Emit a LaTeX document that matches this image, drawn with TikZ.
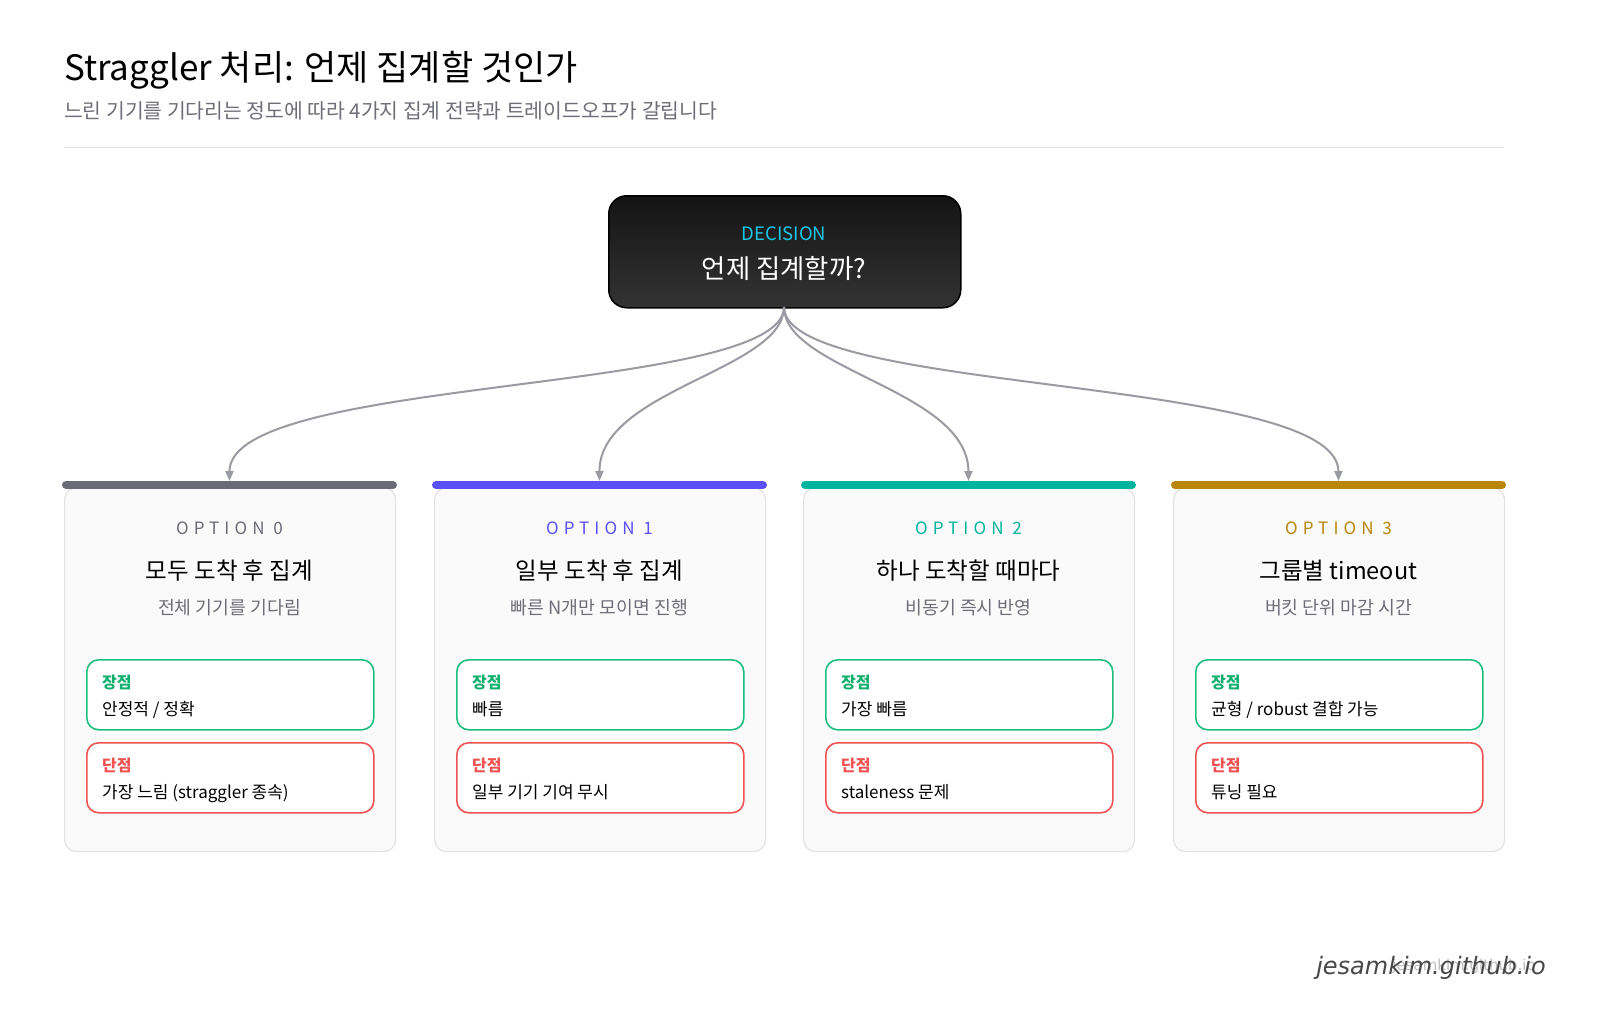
\documentclass[tikz,border=0pt]{standalone}
\usepackage{fontspec}
\setmainfont{Noto Sans CJK KR}
\newfontfamily\wm{DejaVu Sans}
\usetikzlibrary{arrows.meta}
\definecolor{optg}{HTML}{6B6B78}
\definecolor{optb}{HTML}{5B50F5}
\definecolor{optt}{HTML}{00B4A0}
\definecolor{opty}{HTML}{B8860B}
\definecolor{progreen}{HTML}{1DBF7F}
\definecolor{prolabel}{HTML}{12B06E}
\definecolor{conred}{HTML}{F05252}
\definecolor{cardfill}{HTML}{FAFAFA}
\definecolor{cardline}{HTML}{E2E2E6}
\definecolor{arr}{HTML}{9A9AA2}
\definecolor{subgray}{HTML}{6E6E78}
\definecolor{cyanlab}{HTML}{19C6E8}
\tikzset{
 card/.style={draw=cardline, fill=cardfill, rounded corners=12pt, line width=1.2pt, minimum width=331pt, minimum height=364pt, anchor=north west, inner sep=0pt},
 bar/.style={line width=8pt, line cap=round},
 probox/.style={draw=progreen, fill=white, rounded corners=12pt, line width=1.6pt, minimum width=287pt, minimum height=70pt, anchor=north west, inner sep=0pt},
 conbox/.style={draw=conred, fill=white, rounded corners=12pt, line width=1.6pt, minimum width=287pt, minimum height=70pt, anchor=north west, inner sep=0pt},
 conn/.style={draw=arr, line width=2pt, -{Triangle[length=10pt,width=8pt]}},
 lab/.style={anchor=base west, inner sep=0pt},
 ctr/.style={anchor=base, inner sep=0pt},
}
\newcommand{\optcard}[7]{% x, color, num, title, sub, pro, con
 \node[card] (card#3) at (#1,487) {};
 \draw[bar,#2] (#1+2,485) -- (#1+329,485);
 \coordinate (top#3) at (#1+165.5,481);
 \node[ctr,text=#2] (ol#3) at (#1+165.5,534) {\fontsize{17}{20}\selectfont\addfontfeatures{LetterSpace=30}OPTION #3};
 \node[ctr] (ot#3) at (#1+165.5,579) {\fontsize{23.5}{28}\selectfont #4};
 \node[ctr,text=subgray] (os#3) at (#1+165.5,614) {\fontsize{18.3}{22}\selectfont #5};
 \node[probox] (pro#3) at (#1+22,659) {};
 \node[lab,text=prolabel] at (#1+38,688) {\fontsize{16}{19}\selectfont\bfseries 장점};
 \node[lab] (protx#3) at (#1+38,715) {\fontsize{17}{20}\selectfont #6};
 \node[conbox] (con#3) at (#1+22,742) {};
 \node[lab,text=conred] at (#1+38,771) {\fontsize{16}{19}\selectfont\bfseries 단점};
 \node[lab] (contx#3) at (#1+38,798) {\fontsize{17}{20}\selectfont #7};
}
\begin{document}
\begin{tikzpicture}[x=1pt,y=-1pt]
\useasboundingbox[fill=white] (0,0) rectangle (1600,1012);
\node[lab] (title) at (64,80) {\fontsize{35}{40}\selectfont Straggler 처리: 언제 집계할 것인가};
\node[lab,text=subgray] (subtitle) at (64,118) {\fontsize{20.4}{24}\selectfont 느린 기기를 기다리는 정도에 따라 4가지 집계 전략과 트레이드오프가 갈립니다};
\draw[cardline, line width=1pt] (64,147) -- (1504,147);
\node[draw=black, line width=1.5pt, rounded corners=18pt, top color=black!92, bottom color=black!80, minimum width=352pt, minimum height=112pt, anchor=north west, inner sep=0pt] (dec) at (608,195) {};
\node[ctr,text=cyanlab] (declab) at (784,240) {\fontsize{18.5}{22}\selectfont DECISION};
\node[ctr,text=white] (dectxt) at (784,278) {\fontsize{26.4}{30}\selectfont 언제 집계할까?};
\optcard{64}{optg}{0}{모두 도착 후 집계}{전체 기기를 기다림}{안정적 / 정확}{가장 느림 (straggler 종속)}
\optcard{434}{optb}{1}{일부 도착 후 집계}{빠른 N개만 모이면 진행}{빠름}{일부 기기 기여 무시}
\optcard{803}{optt}{2}{하나 도착할 때마다}{비동기 즉시 반영}{가장 빠름}{staleness 문제}
\optcard{1173}{opty}{3}{그룹별 timeout}{버킷 단위 마감 시간}{균형 / robust 결합 가능}{튜닝 필요}
\coordinate (src) at (784,307);
\draw[conn] (src) .. controls (784,395) and (229,375) .. (top0);
\draw[conn] (src) .. controls (784,370) and (599,390) .. (top1);
\draw[conn] (src) .. controls (784,370) and (968,390) .. (top2);
\draw[conn] (src) .. controls (784,395) and (1338,375) .. (top3);
\node[anchor=base east, inner sep=0pt, text=black!25] (wm1) at (1536,970) {\wm\fontsize{15}{18}\selectfont jesamkim.github.io};
\node[anchor=base east, inner sep=0pt, text=black!72] (wm2) at (1546,974) {\wm\itshape\fontsize{24}{28}\selectfont jesamkim.github.io};
\end{tikzpicture}
\end{document}
